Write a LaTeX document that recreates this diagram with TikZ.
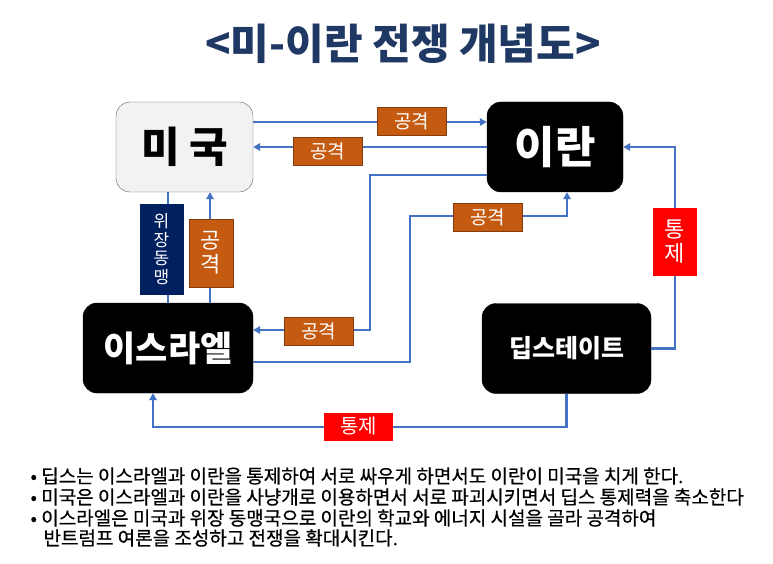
\documentclass[tikz,border=0pt]{standalone}
\usepackage{fontspec}
\setmainfont{Noto Sans CJK KR}
\newfontfamily\notefont{Noto Sans CJK KR}[FakeBold=0.5]
\usetikzlibrary{arrows.meta}

\definecolor{titlenavy}{HTML}{1F3864}
\definecolor{allynavy}{HTML}{002060}
\definecolor{linkblue}{HTML}{4472C4}
\definecolor{atkorange}{HTML}{C55A11}
\definecolor{atkedge}{HTML}{843C0C}
\definecolor{usagray}{HTML}{F2F2F2}
\definecolor{ctlred}{HTML}{FF0000}

\tikzset{
  box/.style={rounded corners=14pt, draw=black, fill=black, text=white,
    font=\bfseries, minimum height=90pt, inner sep=0pt},
  link/.style={draw=linkblue, line width=2.2pt},
  arr/.style={link, -{Triangle[length=7pt,width=7.5pt]}},
  atk/.style={draw=atkedge, fill=atkorange, text=white, inner sep=0pt,
    minimum width=69pt, minimum height=28pt, font=\fontsize{19}{21}\selectfont},
  atkv/.style={atk, minimum width=44pt, minimum height=68pt, align=center,
    font=\fontsize{22}{24}\selectfont},
  ctl/.style={fill=ctlred, text=white, inner sep=0pt,
    minimum width=69pt, minimum height=28pt, font=\fontsize{20}{22}\selectfont},
  ctlv/.style={ctl, minimum width=44pt, minimum height=68pt, align=center,
    font=\fontsize{22}{24}\selectfont},
  note/.style={anchor=west, font=\notefont\fontsize{19}{21}\selectfont}
}

\begin{document}
\begin{tikzpicture}[x=1pt,y=-1pt]
\useasboundingbox (0,0) rectangle (773,564);

% title
\node[text=titlenavy, font=\fontsize{42}{48}\selectfont\bfseries] (title) at (403,44) {<미-이란 전쟁 개념도>};

% boxes
\node[box, fill=usagray, draw=black!65, text=black, minimum width=137pt,
  font=\fontsize{42}{48}\selectfont\bfseries] (usa) at (184.5,147) {미 국};
\node[box, minimum width=136pt, font=\fontsize{44}{50}\selectfont\bfseries] (iran) at (555,147) {이란};
\node[box, minimum width=170pt, font=\fontsize{35}{40}\selectfont\bfseries] (israel) at (168,348) {이스라엘};
\node[box, minimum width=169pt, font=\fontsize{25}{30}\selectfont\bfseries] (deep) at (566.5,348.5) {딥스테이트};

% bend points
\coordinate (b3) at (370,330);
\coordinate (b4) at (410,216);
\coordinate (b5) at (567,216);
\coordinate (b7) at (675,147);
\coordinate (b8) at (153,427);

% attacks
\draw[arr] ([yshift=25pt]usa.east) -- ([yshift=25pt]iran.west);
\draw[arr] (iran.west) -- (usa.east);
\draw[arr] ([yshift=-28pt]iran.west) -| (b3) -- ([yshift=18pt]israel.east);
\draw[arr] ([yshift=-14pt]israel.east) -| (b4) -- (b5) -- ([xshift=12pt]iran.south);
\draw[arr] ([xshift=42pt]israel.north) -- ([xshift=25.5pt]usa.south);
\draw[link] ([xshift=-16.5pt]usa.south) -- (israel.north);

% control
\draw[arr] (deep.east) -| (b7) -- (iran.east);
\draw[arr] (deep.south) |- (b8) -- ([xshift=-15pt]israel.south);

% labels
\node[atk] (atk1) at (411.5,121.5) {공격};
\node[atk] (atk2) at (327.5,151) {공격};
\node[atk] (atk3) at (318.5,331) {공격};
\node[atk] (atk4) at (487.5,217) {공격};
\node[atkv] (atk5) at (211,253) {공\\격};
\node[atkv, fill=allynavy, draw=allynavy, minimum width=43pt, minimum height=90pt,
  font=\fontsize{17}{18.5}\selectfont] (ally) at (161.5,249) {위\\장\\동\\맹};
\node[ctlv] (ctl1) at (675,242) {통\\제};
\node[ctl] (ctl2) at (358.5,426.5) {통제};

% notes
\node[note] (n1) at (27,476) {• 딥스는 이스라엘과 이란을 통제하여 서로 싸우게 하면서도 이란이 미국을 치게 한다.};
\node[note] (n2) at (27,497) {• 미국은 이스라엘과 이란을 사냥개로 이용하면서 서로 파괴시키면서 딥스 통제력을 축소한다};
\node[note] (n3) at (27,518) {• 이스라엘은 미국과 위장 동맹국으로 이란의 학교와 에너지 시설을 골라 공격하여};
\node[note] (n4) at (40,538) {반트럼프 여론을 조성하고 전쟁을 확대시킨다.};

\end{tikzpicture}
\end{document}
